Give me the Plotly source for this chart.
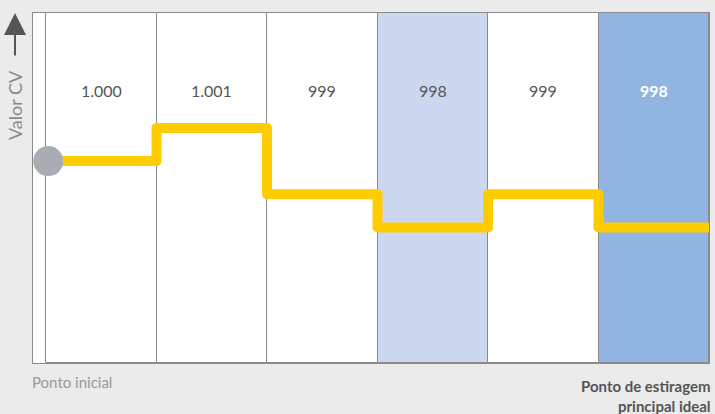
import plotly.graph_objects as go

# data
labels = ["1.000", "1.001", "999", "998", "999", "998"]
cv_values = [1000, 1001, 999, 998, 999, 998]
col_colors = ["#ffffff", "#ffffff", "#ffffff", "#cbd8ef", "#ffffff", "#92b4e0"]
label_colors = ["#555555", "#555555", "#555555", "#555555", "#555555", "#ffffff"]

Y_LO, Y_HI = 993.92, 1004.46
X_LO, X_HI = -0.118, 6.0

fig = go.Figure()

# columns
fig.add_trace(go.Bar(
    x=[i + 0.5 for i in range(len(labels))],
    y=[Y_HI - Y_LO] * len(labels),
    base=[Y_LO] * len(labels),
    width=1,
    marker=dict(color=col_colors, line=dict(color="#8a8a8a", width=1)),
    hoverinfo="skip",
    showlegend=False,
))

# step line
fig.add_trace(go.Scatter(
    x=list(range(len(cv_values) + 1)),
    y=cv_values + [cv_values[-1]],
    mode="lines",
    line=dict(color="#ffcc00", width=10, shape="hv"),
    showlegend=False,
    cliponaxis=True,
    hoverinfo="skip",
))

# start point
fig.add_trace(go.Scatter(
    x=[0.02], y=[cv_values[0]],
    mode="markers",
    marker=dict(color="#a8adb4", size=30, line=dict(width=0)),
    showlegend=False,
    cliponaxis=False,
    hoverinfo="skip",
))

# column labels
for i, (t, c) in enumerate(zip(labels, label_colors)):
    fig.add_annotation(
        x=i + 0.5, y=1002.14, xref="x", yref="y", text=t, showarrow=False,
        font=dict(size=16, color=c, family="Lato",
                  weight="bold" if c == "#ffffff" else "normal"),
    )

# axis label + arrow
fig.add_annotation(
    xref="paper", yref="paper", x=-0.0266, y=0.737, text="Valor CV",
    textangle=-90, showarrow=False, xanchor="center", yanchor="middle",
    font=dict(size=18, color="#8a8a8a", family="Lato"),
)
fig.add_annotation(
    xref="paper", yref="paper", x=-0.0266, y=1.0, text="",
    showarrow=True, ax=0, ay=44, arrowhead=2, arrowsize=2.2,
    arrowwidth=2, arrowcolor="#555555",
)

fig.add_annotation(
    xref="paper", yref="paper", x=-0.004, y=-0.022, text="Ponto inicial",
    xanchor="left", yanchor="top", showarrow=False,
    font=dict(size=15, color="#999999", family="Lato"),
)
fig.add_annotation(
    xref="paper", yref="paper", x=1.006, y=-0.035,
    text="<b>Ponto de estiragem<br>principal ideal</b>",
    xanchor="right", yanchor="top", align="right", showarrow=False,
    font=dict(size=15, color="#555555", family="Lato"),
)

fig.update_layout(
    width=715, height=414,
    margin=dict(l=33, r=6, t=13, b=51),
    paper_bgcolor="#ebebeb",
    plot_bgcolor="#ffffff",
    bargap=0,
    hovermode=False,
    xaxis=dict(range=[X_LO, X_HI], showgrid=False, zeroline=False,
               showticklabels=False, showline=True, linecolor="#8a8a8a",
               mirror=True, linewidth=1),
    yaxis=dict(range=[Y_LO, Y_HI], showgrid=False, zeroline=False,
               showticklabels=False, showline=True, linecolor="#8a8a8a",
               mirror=True, linewidth=1),
)

# page margin off so the figure sits at the window corner; rounded line joins
post = """
document.body.style.margin = '0';
var st = document.createElement('style');
st.textContent = '.scatterlayer path.js-line { stroke-linejoin: round !important; }';
document.head.appendChild(st);
"""
fig.write_html("out.html", post_script=post, config={"displayModeBar": False})
